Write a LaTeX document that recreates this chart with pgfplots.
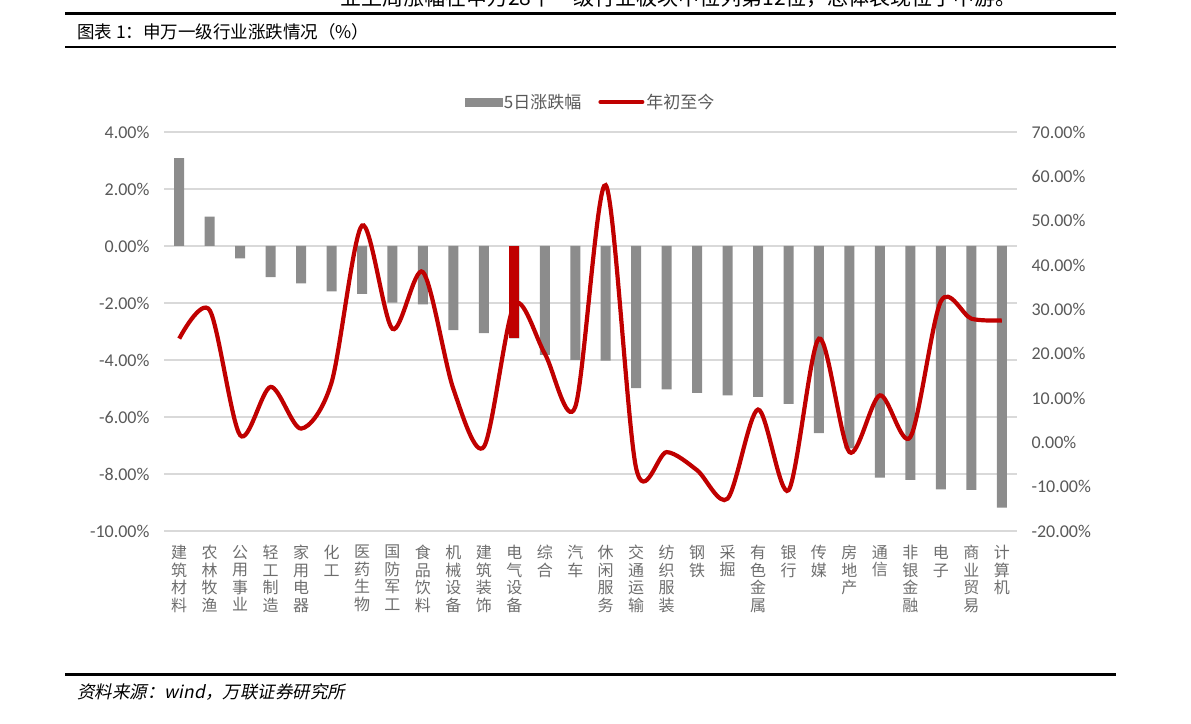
\documentclass[border=0pt]{standalone}
\usepackage{fontspec}
\setmainfont{Carlito}
\newfontfamily\cjk{Noto Sans CJK SC}
\newfontfamily\cjkit[FakeSlant=0.2]{Noto Sans CJK SC}
\usepackage{pgfplots}
\usepackage{pgfplotstable}
\pgfplotsset{compat=1.18}

\definecolor{bargray}{HTML}{8C8C8C}
\definecolor{linered}{HTML}{C00000}
\definecolor{txtgray}{HTML}{595959}
\definecolor{labgray}{HTML}{6E6E6E}
\definecolor{gridgray}{HTML}{D9D9D9}

% x  5日涨跌幅(%)  年初至今(%)
\pgfplotstableread{
x  bar    line
0   3.08  23.4
1   1.03  29.8
2  -0.43   1.6
3  -1.09  12.5
4  -1.31   3.1
5  -1.59  13.5
6  -1.68  48.9
7  -1.99  25.6
8  -2.05  38.4
9  -2.95  12.0
10 -3.06  -1.0
11 -3.24  31.0
12 -3.82  20.0
13 -4.00   8.0
14 -4.02  58.0
15 -4.99  -5.9
16 -5.03  -2.2
17 -5.15  -6.3
18 -5.24 -12.7
19 -5.29   7.4
20 -5.54 -10.8
21 -6.57  23.4
22 -7.10  -2.2
23 -8.13  10.6
24 -8.21   1.2
25 -8.54  31.8
26 -8.56  27.9
27 -9.18  27.5
}\data

\pgfplotsset{
  common/.style={
    scale only axis,
    width=853pt, height=399pt,
    at={(164pt,192pt)}, anchor=south west,
    xmin=-0.5, xmax=27.5,
    axis line style={draw=none},
    major tick length=0pt,
    /pgf/number format/assume math mode=true,
    tick label style={font=\fontsize{18}{20}\selectfont, text=txtgray},
  },
}

\begin{document}
\begin{tikzpicture}
\useasboundingbox (0pt,0pt) rectangle (1191pt,723pt);

% header
\begin{scope}
  \clip (0pt,715pt) rectangle (1191pt,723pt);
  \node[anchor=base west, inner sep=0pt, font=\cjk\fontsize{21}{21}\selectfont]
    at (340pt,717pt) {业上周涨幅在申万28个一级行业板块中位列第12位，总体表现位于中游。};
\end{scope}
\draw[line width=3pt] (65pt,709.5pt) -- (1116pt,709.5pt);
\node[anchor=west, inner sep=0pt, font=\cjk\fontsize{17.5}{17.5}\selectfont]
  at (77pt,691pt) {图表 1：申万一级行业涨跌情况（\%）};
\draw[line width=2.5pt] (65pt,676pt) -- (1116pt,676pt);

% bars, left axis
\begin{axis}[common,
  ymin=-10, ymax=4,
  ytick={-10,-8,...,4},
  ymajorgrids=true,
  grid style={gridgray, line width=1.3pt},
  yticklabel={\pgfmathprintnumber[fixed,fixed zerofill,precision=2]{\tick}\%},
  yticklabel style={anchor=east, xshift=-11pt},
  xtick=data,
  xticklabels={{建\\筑\\材\\料},{农\\林\\牧\\渔},{公\\用\\事\\业},{轻\\工\\制\\造},
    {家\\用\\电\\器},{化\\工},{医\\药\\生\\物},{国\\防\\军\\工},{食\\品\\饮\\料},
    {机\\械\\设\\备},{建\\筑\\装\\饰},{电\\气\\设\\备},{综\\合},{汽\\车},
    {休\\闲\\服\\务},{交\\通\\运\\输},{纺\\织\\服\\装},{钢\\铁},{采\\掘},
    {有\\色\\金\\属},{银\\行},{传\\媒},{房\\地\\产},{通\\信},{非\\银\\金\\融},
    {电\\子},{商\\业\\贸\\易},{计\\算\\机}},
  xticklabel style={font=\cjk\fontsize{16}{17.5}\selectfont, text=labgray,
    align=center, anchor=north, inner sep=0pt, yshift=-14pt},
]
\addplot[ybar, bar width=10pt, bar shift=0pt, fill=bargray, draw=none]
  table[x=x, y=bar]{\data};
\addplot[ybar, bar width=10pt, bar shift=0pt, fill=linered, draw=none]
  coordinates {(11,-3.24)};
\end{axis}

% line, right axis
\begin{axis}[common,
  ymin=-20, ymax=70,
  ytick={-20,-10,...,70},
  ytick pos=right, yticklabel pos=right,
  yticklabel={\pgfmathprintnumber[fixed,fixed zerofill,precision=2]{\tick}\%},
  yticklabel style={anchor=west, xshift=11pt},
  xtick=\empty,
  legend columns=2,
  legend style={draw=none, fill=none, at={(0.5,1)}, anchor=center, yshift=30pt,
    font=\cjk\fontsize{17}{20}\selectfont, text=txtgray,
    /tikz/every even column/.append style={column sep=15pt}},
  legend cell align=left,
]
\addlegendimage{legend image code/.code={\fill[bargray] (-4pt,-4pt) rectangle (33pt,4pt);}}
\addlegendentry{5日涨跌幅}
\addplot[smooth, linered, line width=4.2pt, no markers,
  legend image code/.code={\draw[linered, line width=4pt, line cap=round] (0pt,0pt) -- (42pt,0pt);}]
  table[x=x, y=line]{\data};
\addlegendentry{年初至今}
\end{axis}

% footer
\draw[line width=3pt] (65pt,49pt) -- (1116pt,49pt);
\node[anchor=west, inner sep=0pt, font=\cjkit\fontsize{17.5}{17.5}\selectfont]
  at (77pt,31pt) {资料来源：wind，万联证券研究所};
\end{tikzpicture}
\end{document}
